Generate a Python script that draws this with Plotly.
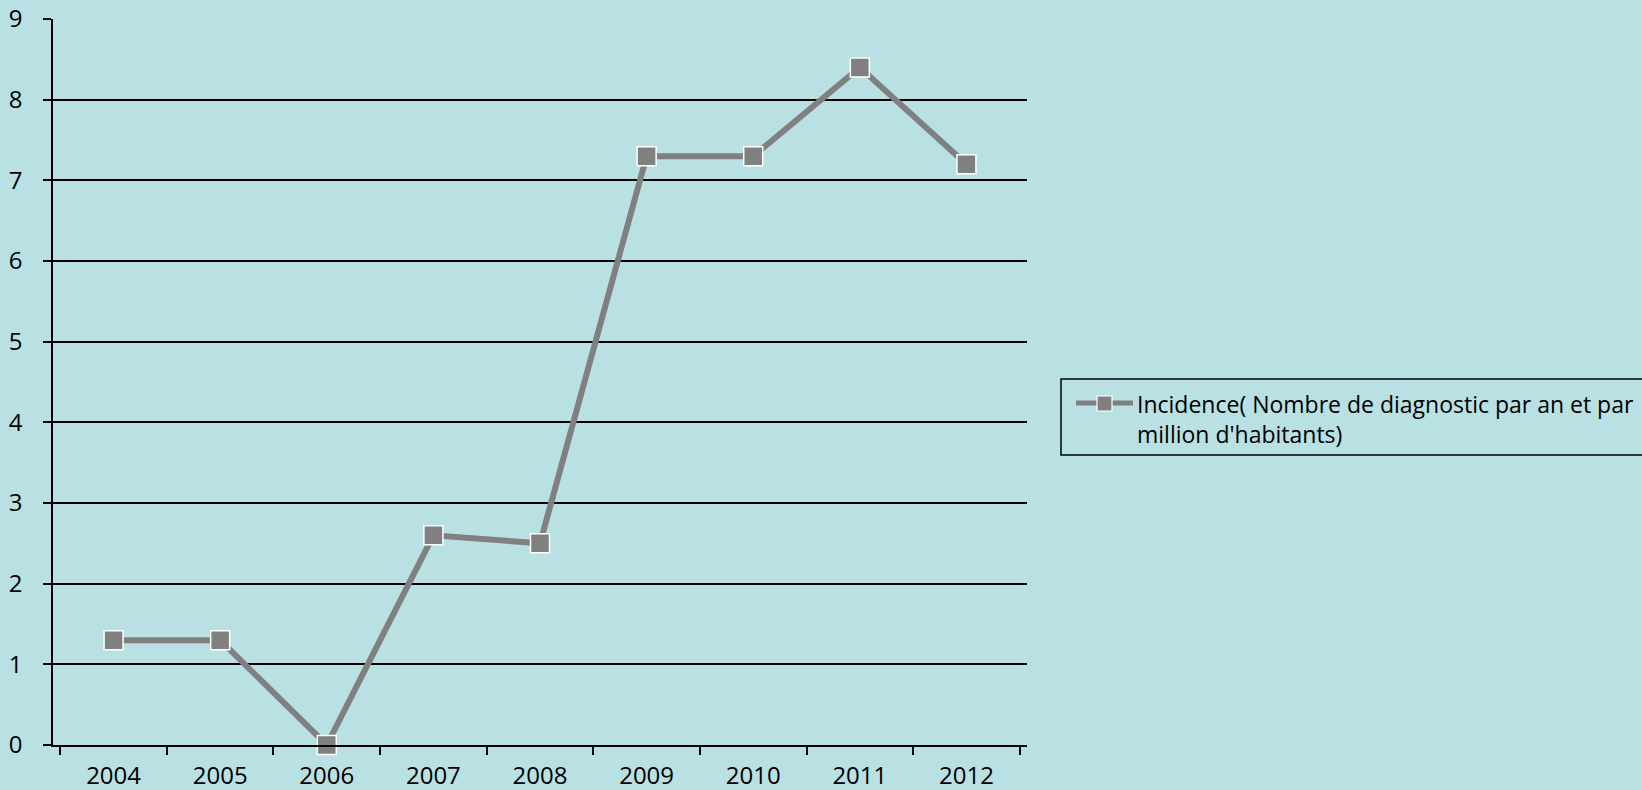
import plotly.graph_objects as go

years = ["2004", "2005", "2006", "2007", "2008", "2009", "2010", "2011", "2012"]
incidence = [1.3, 1.3, 0, 2.6, 2.5, 7.3, 7.3, 8.4, 7.2]
series_name = "Incidence( Nombre de diagnostic par an et par<br>million d'habitants)"

BG = "#B9E0E3"
LINE = "#808080"
FONT = "Open Sans"

fig = go.Figure()
fig.add_trace(go.Scatter(
    x=years, y=incidence, mode="lines+markers",
    line=dict(color=LINE, width=6),
    marker=dict(symbol="square", size=19, color=LINE, line=dict(color="white", width=1.5)),
    showlegend=False, cliponaxis=False,
))

W, H = 1642, 790
L, R, T, B = 53, 1027, 19, 745


# helpers converting pixel positions to paper coordinates for the legend box
def paper_x(x):
    return (x - L) / (R - L)


def paper_y(y):
    return (B - y) / (B - T)


shapes = [
    dict(type="rect", xref="paper", yref="paper",
         x0=paper_x(1061), x1=paper_x(1660), y0=paper_y(455), y1=paper_y(379),
         line=dict(color="black", width=1.5), fillcolor="rgba(0,0,0,0)"),
    dict(type="line", xref="paper", yref="paper",
         x0=paper_x(1076), x1=paper_x(1133), y0=paper_y(403), y1=paper_y(403),
         line=dict(color=LINE, width=5)),
    dict(type="rect", xref="paper", yref="paper",
         x0=paper_x(1097), x1=paper_x(1112), y0=paper_y(411), y1=paper_y(396),
         line=dict(color="white", width=1.2), fillcolor=LINE),
]

annotations = [
    dict(xref="paper", yref="paper", x=paper_x(1135), y=paper_y(419), xanchor="left", yanchor="middle",
         text=series_name, showarrow=False, align="left",
         font=dict(family=FONT, size=23, color="black")),
]

fig.update_layout(
    width=W, height=H,
    paper_bgcolor=BG, plot_bgcolor=BG,
    margin=dict(l=L, r=W - R, t=T, b=H - B),
    font=dict(family=FONT, size=24, color="black"),
    shapes=shapes, annotations=annotations,
    xaxis=dict(type="category", tickson="boundaries", ticks="outside", ticklen=8,
               tickcolor="black", tickwidth=1.5, showline=True, linecolor="black", linewidth=1.5,
               showgrid=False, zeroline=False, ticklabelstandoff=8, automargin=False),
    yaxis=dict(range=[0, 9], dtick=1, ticks="outside", ticklen=8, tickcolor="black", tickwidth=1.5,
               showline=True, linecolor="black", linewidth=1.5,
               showgrid=True, gridcolor="black", gridwidth=1.5, zeroline=False,
               ticklabelstandoff=16, automargin=False),
)

fig.write_html("out.html")
